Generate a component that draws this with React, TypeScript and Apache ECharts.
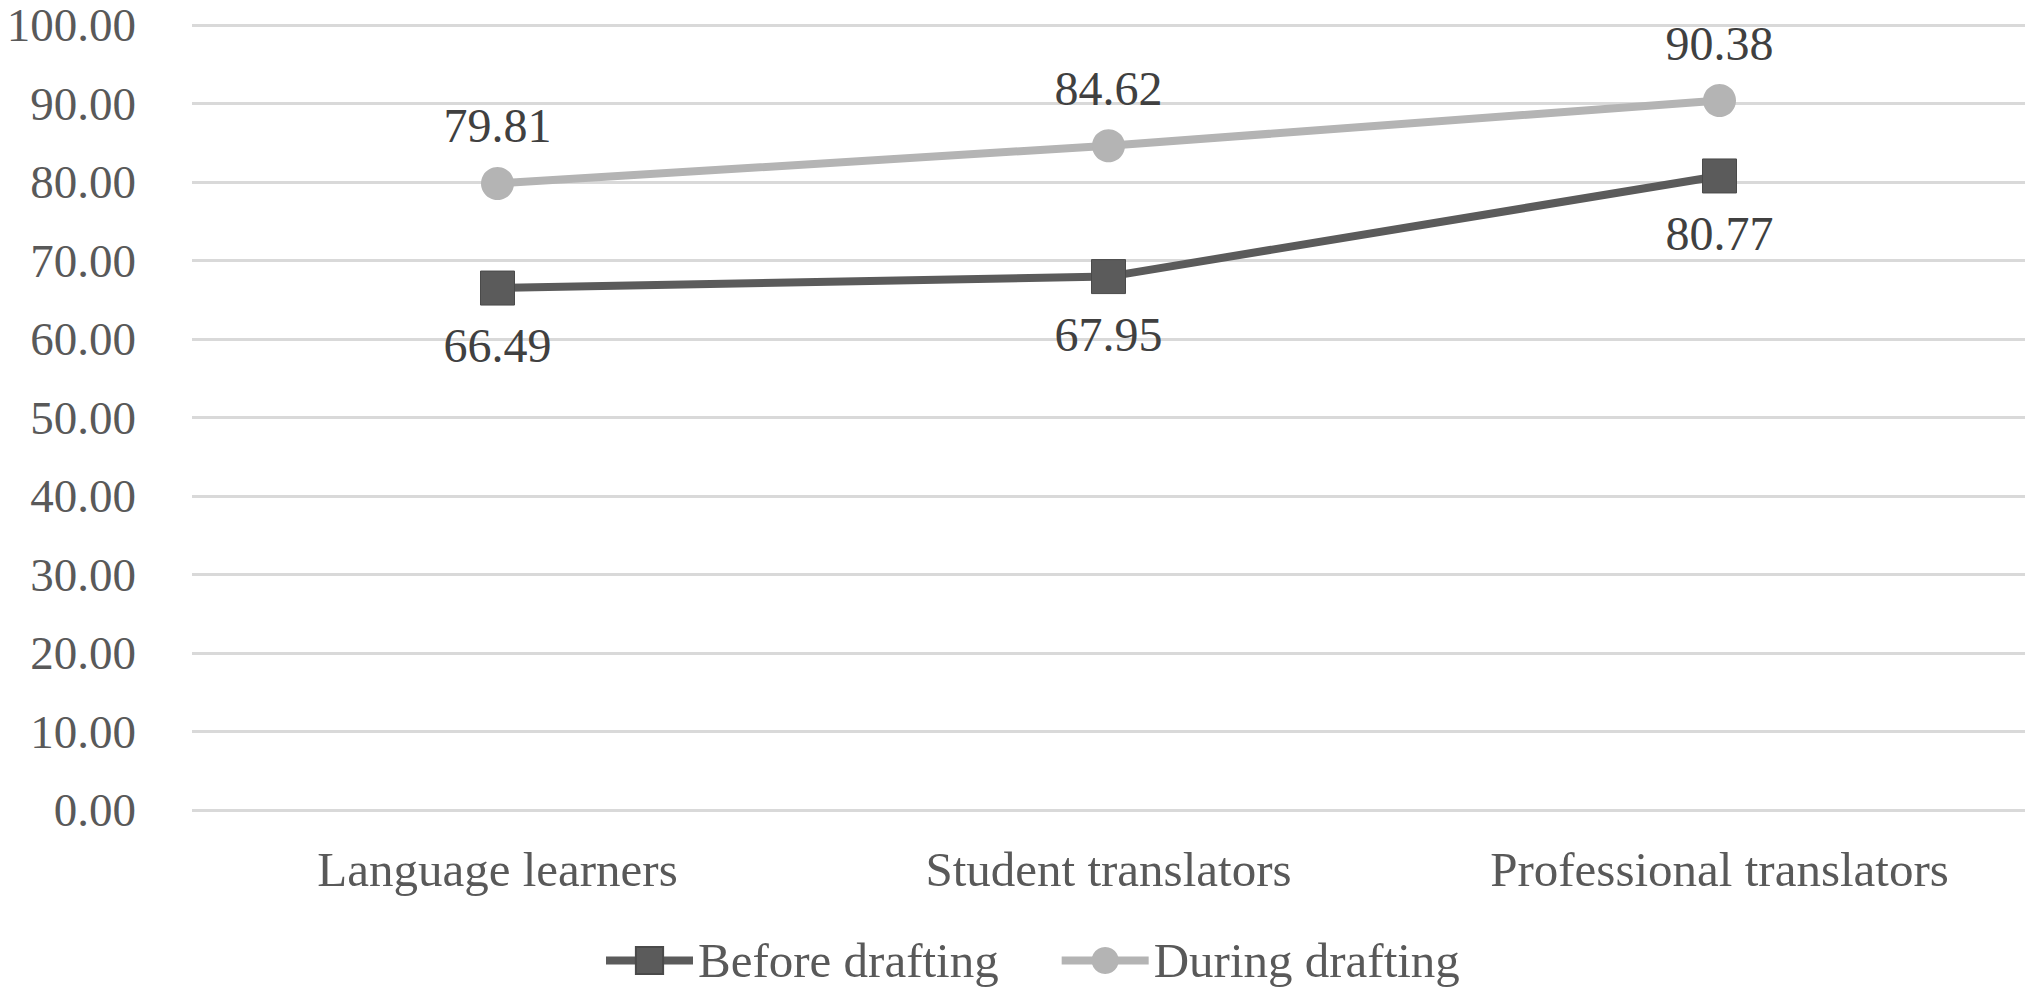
import React, { useEffect, useRef } from "react";
import * as echarts from "echarts";

const categories = ["Language learners", "Student translators", "Professional translators"];
const beforeDrafting = [66.49, 67.95, 80.77];
const duringDrafting = [79.81, 84.62, 90.38];
const seriesNames = ["Before drafting", "During drafting"];

const FONT = "'Times New Roman', 'Liberation Serif', 'DejaVu Serif', serif";

export default function App() {
  const ref = useRef<HTMLDivElement>(null);
  useEffect(() => {
    document.body.style.margin = "0";
    const chart = echarts.init(ref.current!, null, { renderer: "svg" });
    chart.setOption({
      animation: false,
      backgroundColor: "#ffffff",
      textStyle: { fontFamily: FONT },
      grid: { left: 192, right: 7, top: 25, bottom: 182, containLabel: false },
      legend: {
        data: seriesNames,
        top: 936,
        left: 602,
        padding: 0,
        itemWidth: 87,
        itemHeight: 34,
        itemGap: 59,
        lineStyle: { width: 8 },
        textStyle: { fontFamily: FONT, fontSize: 49, color: "#595959" },
      },
      xAxis: {
        type: "category",
        data: categories,
        boundaryGap: true,
        axisLine: { show: false },
        axisTick: { show: false },
        axisLabel: { fontFamily: FONT, fontSize: 49, color: "#595959", margin: 35 },
      },
      yAxis: {
        type: "value",
        min: 0,
        max: 100,
        interval: 10,
        axisLine: { show: false },
        axisTick: { show: false },
        splitLine: { lineStyle: { color: "#d9d9d9", width: 3 } },
        axisLabel: {
          fontFamily: FONT,
          fontSize: 47,
          color: "#595959",
          margin: 56,
          formatter: (v: number) => v.toFixed(2),
        },
      },
      series: [
        {
          name: seriesNames[0],
          type: "line",
          data: beforeDrafting,
          symbol: "rect",
          symbolSize: 34,
          lineStyle: { color: "#5b5b5b", width: 8 },
          itemStyle: { color: "#5b5b5b", borderColor: "#4a4a4a", borderWidth: 1 },
          label: {
            show: true,
            position: "bottom",
            distance: 16,
            fontFamily: FONT,
            fontSize: 48,
            color: "#404040",
            formatter: (p: any) => p.value.toFixed(2),
          },
          z: 3,
        },
        {
          name: seriesNames[1],
          type: "line",
          data: duringDrafting,
          symbol: "circle",
          symbolSize: 33,
          lineStyle: { color: "#b4b4b4", width: 8 },
          itemStyle: { color: "#b4b4b4" },
          label: {
            show: true,
            position: "top",
            distance: 17,
            fontFamily: FONT,
            fontSize: 48,
            color: "#404040",
            formatter: (p: any) => p.value.toFixed(2),
          },
          z: 2,
        },
      ],
    });
    return () => chart.dispose();
  }, []);
  return <div ref={ref} style={{ width: 2032, height: 992 }} />;
}
